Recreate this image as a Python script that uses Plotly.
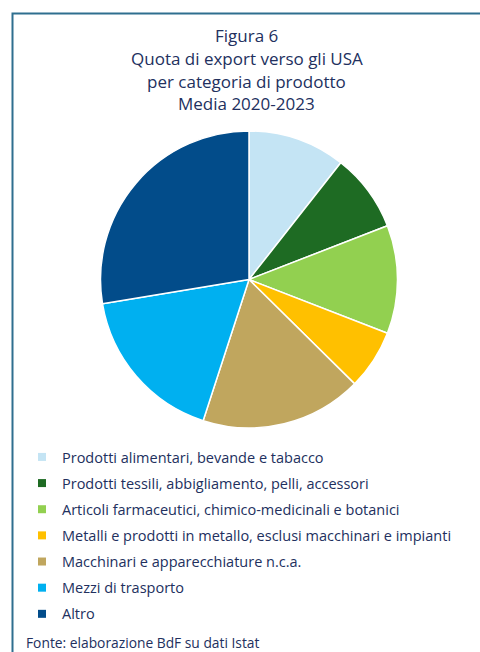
import plotly.graph_objects as go

categories = [
    "Prodotti alimentari, bevande e tabacco",
    "Prodotti tessili, abbigliamento, pelli, accessori",
    "Articoli farmaceutici, chimico-medicinali e botanici",
    "Metalli e prodotti in metallo, esclusi macchinari e impianti",
    "Macchinari e apparecchiature n.c.a.",
    "Mezzi di trasporto",
    "Altro",
]
shares = [10.6, 8.5, 11.8, 6.5, 17.6, 17.4, 27.6]
colors = ["#c4e4f4", "#1e6b23", "#92d050", "#ffc000", "#c0a65e", "#00b0f0", "#024c8a"]

W, H = 480, 652
text_color = "#22305e"
font_family = "'Open Sans', 'Noto Sans', sans-serif"

fig = go.Figure()

fig.add_trace(go.Pie(
    labels=categories,
    values=shares,
    marker=dict(colors=colors, line=dict(color="white", width=1.5)),
    sort=False,
    direction="clockwise",
    rotation=0,
    textinfo="none",
    hoverinfo="label+percent",
    showlegend=False,
    domain=dict(x=[100 / W, 398 / W], y=[1 - 428 / H, 1 - 131 / H]),
))

# legend entries (one per category), same colours as the slices
for i, (cat, col) in enumerate(zip(categories, colors)):
    fig.add_trace(go.Scatter(
        x=[None], y=[None], mode="markers", name=cat,
        marker=dict(symbol="square", size=8, color=col),
        legendgroup=f"g{i}", showlegend=True,
    ))

title_lines = ["Figura 6", "Quota di export verso gli USA", "per categoria di prodotto", "Media 2020-2023"]
title_y = [35, 58, 81, 104]
annotations = []
for txt, yy in zip(title_lines, title_y):
    annotations.append(dict(
        text=txt, x=247 / W, y=1 - yy / H, xref="paper", yref="paper",
        xanchor="center", yanchor="middle", showarrow=False,
        font=dict(size=17, color=text_color, family=font_family),
    ))
annotations.append(dict(
    text="Fonte: elaborazione BdF su dati Istat", x=24 / W, y=1 - 642 / H,
    xref="paper", yref="paper", xanchor="left", yanchor="middle", showarrow=False,
    font=dict(size=13.8, color=text_color, family=font_family),
))

fig.update_layout(
    width=W, height=H,
    margin=dict(l=0, r=0, t=0, b=0),
    paper_bgcolor="white", plot_bgcolor="white",
    xaxis=dict(visible=False), yaxis=dict(visible=False),
    showlegend=True,
    legend=dict(
        x=22 / W, y=1 - 441 / H, xanchor="left", yanchor="top",
        font=dict(size=14.5, color=text_color, family=font_family),
        tracegroupgap=4.3, bgcolor="rgba(0,0,0,0)", itemclick=False,
    ),
    annotations=annotations,
    shapes=[dict(
        type="rect", xref="paper", yref="paper",
        x0=12.5 / W, x1=1.05, y0=-0.05, y1=1 - 13.5 / H,
        line=dict(color="#2f6f8f", width=2), fillcolor="rgba(0,0,0,0)",
    )],
)

fig.write_html("out.html", config={"displayModeBar": False},
               post_script="document.body.style.margin='0';")
